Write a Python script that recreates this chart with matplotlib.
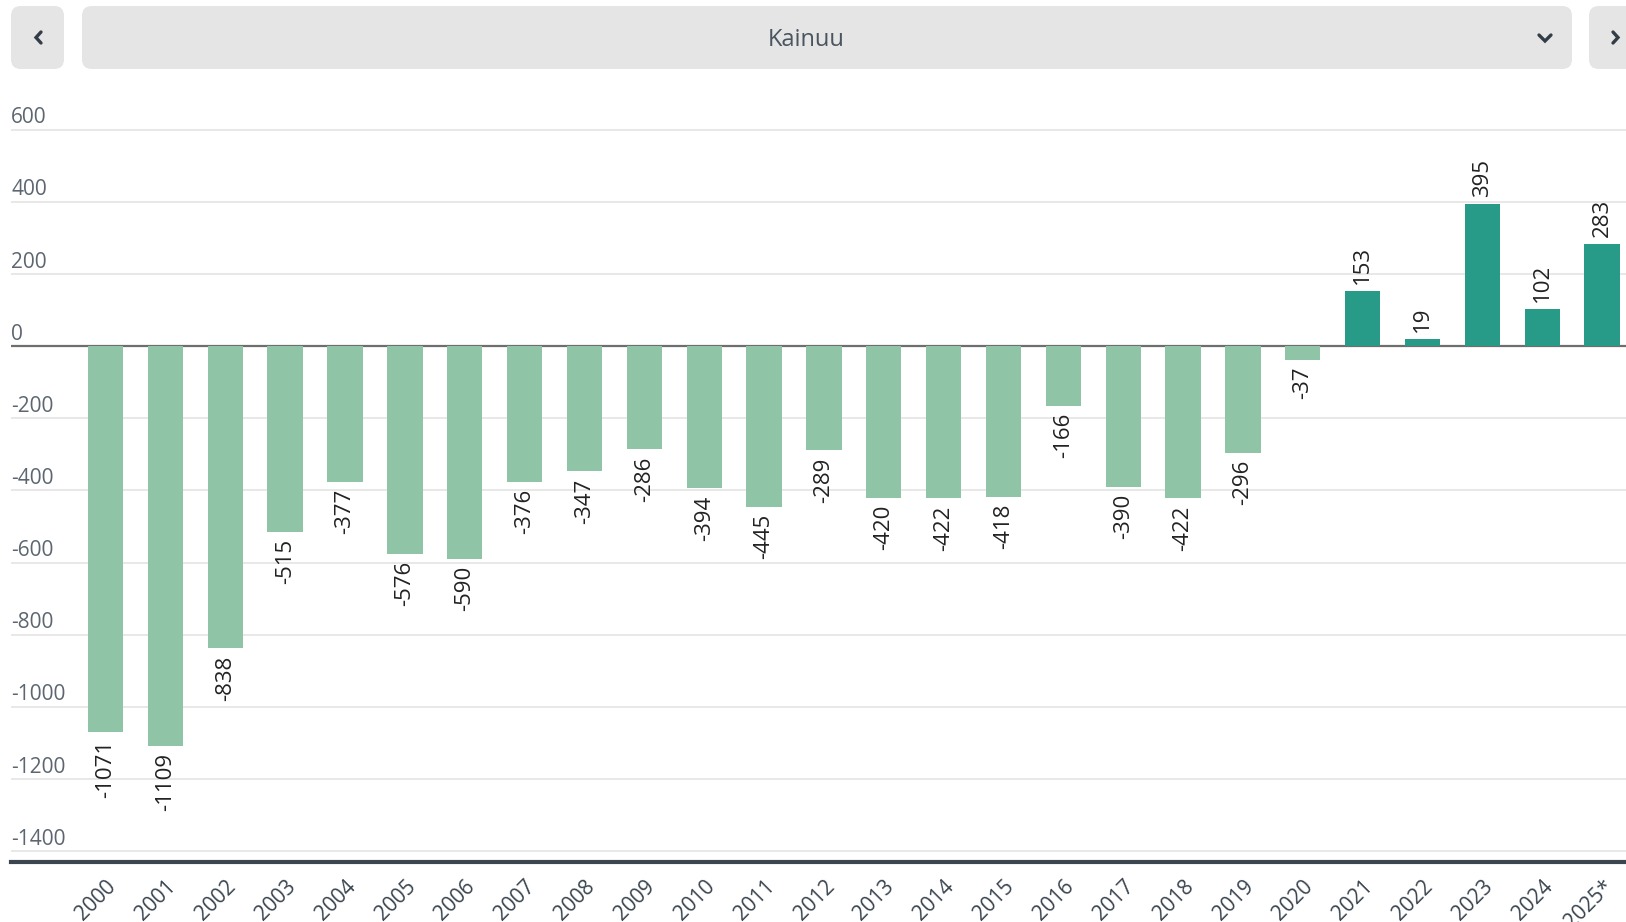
import numpy as np
import matplotlib
matplotlib.use("Agg")
import matplotlib.pyplot as plt
from matplotlib.patches import FancyBboxPatch
from matplotlib.lines import Line2D
import matplotlib.transforms as mtransforms

plt.rcParams['font.family'] = ['Open Sans', 'DejaVu Sans']

# data
years = ['2000', '2001', '2002', '2003', '2004', '2005', '2006', '2007', '2008',
         '2009', '2010', '2011', '2012', '2013', '2014', '2015', '2016', '2017',
         '2018', '2019', '2020', '2021', '2022', '2023', '2024', '2025*']
values = [-1071, -1109, -838, -515, -377, -576, -590, -376, -347, -286, -394,
          -445, -289, -420, -422, -418, -166, -390, -422, -296, -37, 153, 19,
          395, 102, 283]
yticks = [600, 400, 200, 0, -200, -400, -600, -800, -1000, -1200, -1400]
region = 'Kainuu'

W, H = 1626, 922
fig = plt.figure(figsize=(W / 100, H / 100), dpi=100)

# pixel helpers (from top-left)
def px(x, y):
    return x / W, 1 - y / H

ax = fig.add_axes([11 / W, 60 / H, 1 - 11 / W, (862 - 122.5) / H])

x = np.arange(len(values))
cols = ['#8fc4a7' if v < 0 else '#279b87' for v in values]
ax.bar(x, values, width=0.59, color=cols, zorder=3)

ax.set_xlim(-1.58, 25.4)
ax.set_ylim(-1430, 620)

# grid lines + labels sitting on them
tr = mtransforms.blended_transform_factory(ax.transAxes, ax.transData)
for t in yticks:
    if t == 0:
        ax.axhline(0, color='#6e6e6e', lw=1.6, zorder=2)
    else:
        ax.axhline(t, color='#e4e4e4', lw=1.2, zorder=1)
    ax.text(0, t + 4, str(t), transform=tr, ha='left', va='bottom',
            fontsize=15, color='#5d6670', clip_on=False)

ax.set_yticks([])
ax.set_xticks(x)
ax.set_xticklabels(years, rotation=45, ha='right', rotation_mode='anchor',
                   fontsize=15, color='#3a4550')
ax.tick_params(axis='x', length=0, pad=10)
off = mtransforms.ScaledTranslation(0 / 100, 0, fig.dpi_scale_trans)
for lab in ax.get_xticklabels():
    lab.set_transform(lab.get_transform() + off)

for s in ['top', 'right', 'left']:
    ax.spines[s].set_visible(False)
ax.spines['bottom'].set_color('#3a4550')
ax.spines['bottom'].set_linewidth(3)

# value labels
for xi, v in zip(x, values):
    if v < 0:
        ax.annotate(str(v), (xi, v), xytext=(0, -7), textcoords='offset pixels',
                    rotation=90, ha='center', va='top', fontsize=16, color='#222222')
    else:
        ax.annotate(str(v), (xi, v), xytext=(0, 7), textcoords='offset pixels',
                    rotation=90, ha='center', va='bottom', fontsize=16, color='#222222')

# header controls
def box(x0, y0, x1, y1):
    a, b = px(x0, y1)
    c, d = px(x1, y0)
    p = FancyBboxPatch((a, b), c - a, d - b,
                       boxstyle='round,pad=0,rounding_size=0.006',
                       transform=fig.transFigure, facecolor='#e5e5e5',
                       edgecolor='none', mutation_aspect=W / H)
    fig.patches.append(p)

box(11, 6, 64, 69)
box(82, 6, 1572, 69)
box(1589, 6, 1680, 69)

def chevron(pts):
    xs = [px(p[0], p[1])[0] for p in pts]
    ys = [px(p[0], p[1])[1] for p in pts]
    fig.add_artist(Line2D(xs, ys, transform=fig.transFigure, color='#333d47',
                          lw=2.4, solid_capstyle='round', solid_joinstyle='miter'))

chevron([(41, 32), (36, 37.5), (41, 43)])
chevron([(1539, 35), (1545, 41), (1551, 35)])
chevron([(1613, 32), (1618, 37.5), (1613, 43)])

fig.text(*px(806, 40), region, ha='center', va='center', fontsize=17,
         color='#4a5560')

fig.savefig('out.png', dpi=100)
